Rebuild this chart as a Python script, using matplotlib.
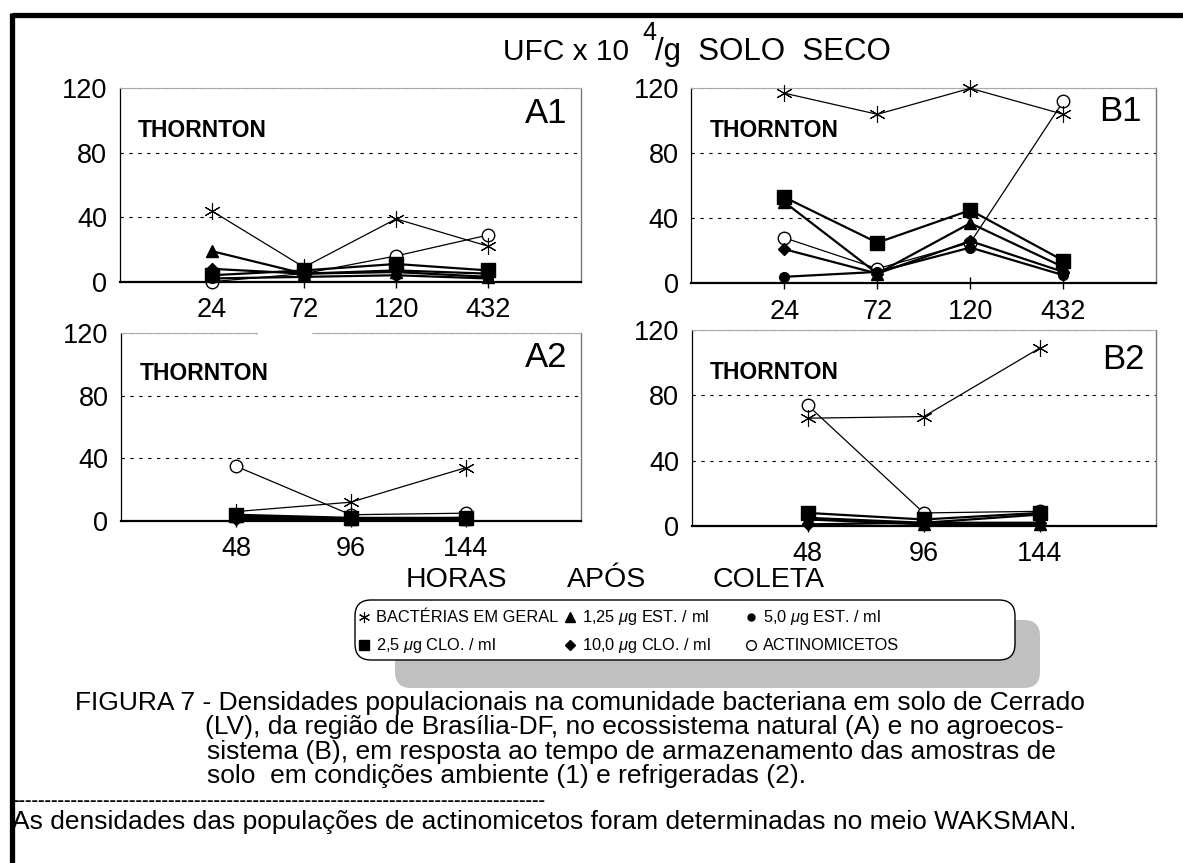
import matplotlib
matplotlib.use('Agg')
import matplotlib.pyplot as plt
from matplotlib.lines import Line2D
from matplotlib.patches import FancyBboxPatch, Rectangle
from matplotlib.transforms import IdentityTransform

plt.rcParams['font.family'] = ['Liberation Sans', 'DejaVu Sans']
plt.rcParams['mathtext.fontset'] = 'custom'
plt.rcParams['mathtext.it'] = 'Liberation Sans:italic'
plt.rcParams['mathtext.rm'] = 'Liberation Sans'

W, H = 1183, 863
fig = plt.figure(figsize=(W / 100, H / 100), dpi=100)


def fx(px):
    return px / W


def fy(py):
    return 1 - py / H


# ---------------- data ----------------
hours_1 = ['24', '72', '120', '432']
hours_2 = ['48', '96', '144']

# A1 : natural ecosystem, ambient storage
A1_bact = [44, 9, 39, 22]
A1_est125 = [19, 5, 6, 3]
A1_est50 = [2, 3, 4, 2]
A1_clo25 = [4, 7, 11, 7]
A1_clo10 = [8, 5, 7, 5]
A1_actino = [0, 5, 16, 29]

# B1 : agroecosystem, ambient storage
B1_bact = [117, 104, 120, 104]
B1_est125 = [50, 6, 37, 10]
B1_est50 = [4, 7, 22, 5]
B1_clo25 = [53, 25, 45, 14]
B1_clo10 = [21, 6, 26, 7]
B1_actino = [28, 9, 25, 112]

# A2 : natural ecosystem, refrigerated storage
A2_bact = [6, 12, 34]
A2_est125 = [3, 1, 1]
A2_est50 = [2, 1, 1]
A2_clo25 = [4, 2, 2]
A2_clo10 = [1, 1, 2]
A2_actino = [35, 4, 5]

# B2 : agroecosystem, refrigerated storage
B2_bact = [66, 67, 109]
B2_est125 = [4, 1, 1]
B2_est50 = [5, 2, 7]
B2_clo25 = [8, 4, 8]
B2_clo10 = [1, 2, 2]
B2_actino = [74, 8, 9]

# ---------------- styles ----------------
STAR = (6, 2, 0)
styles = {
    'actino': dict(marker='o', ms=9, mfc='white', mec='black', mew=1.0, lw=0.9, color='black'),
    'bact': dict(marker=STAR, ms=12, mfc='none', mec='black', mew=0.8, lw=0.9, color='black'),
    'est125': dict(marker='^', ms=9, mfc='black', mec='black', lw=1.6, color='black'),
    'est50': dict(marker='o', ms=7, mfc='black', mec='black', lw=1.6, color='black'),
    'clo10': dict(marker='D', ms=6, mfc='black', mec='black', lw=1.6, color='black'),
    'clo25': dict(marker='s', ms=9.5, mfc='black', mec='black', lw=1.6, color='black'),
}
order = ['actino', 'bact', 'est125', 'est50', 'clo10', 'clo25']


def panel(box_px, cats, data, label, label_pos):
    left, right, top, bottom = box_px
    ax = fig.add_axes([fx(left), fy(bottom), fx(right) - fx(left), fy(top) - fy(bottom)])
    x = list(range(1, len(cats) + 1))
    for key in order:
        ax.plot(x, data[key], clip_on=False, zorder=3, **styles[key])
    ax.set_xlim(0, len(cats) + 1)
    ax.set_ylim(0, 120)
    ax.set_yticks([0, 40, 80, 120])
    ax.set_xticks(x, cats)
    for v in (40, 80, 120):
        ax.axhline(v, color='black', lw=0.8, ls=(0, (3, 5)), zorder=1)
    ax.spines['left'].set_linewidth(0.9)
    ax.spines['right'].set_color('#777777')
    ax.spines['right'].set_linewidth(1.0)
    ax.spines['top'].set_color('#aaaaaa')
    ax.spines['top'].set_linewidth(0.8)
    ax.spines['bottom'].set_linewidth(1.6)
    ax.tick_params(axis='y', length=0, pad=9, labelsize=19.5)
    ax.tick_params(axis='x', direction='inout', length=8, width=1, pad=7, labelsize=19.5)
    ax.text(0.04, 0.785, 'THORNTON', transform=ax.transAxes, fontsize=16.5,
            fontweight='bold', va='center', ha='left')
    ax.text(label_pos[0], label_pos[1], label, transform=ax.transAxes, fontsize=25,
            va='center', ha='right')
    return ax


def pack(b, e1, e5, c2, c10, a):
    return dict(bact=b, est125=e1, est50=e5, clo25=c2, clo10=c10, actino=a)


panel((119.5, 580.5, 88.5, 281.7), hours_1,
      pack(A1_bact, A1_est125, A1_est50, A1_clo25, A1_clo10, A1_actino), 'A1', (0.972, 0.87))
panel((691.3, 1156.3, 88.3, 283.3), hours_1,
      pack(B1_bact, B1_est125, B1_est50, B1_clo25, B1_clo10, B1_actino), 'B1', (0.968, 0.88))
panel((121.0, 580.5, 333.0, 521.0), hours_2,
      pack(A2_bact, A2_est125, A2_est50, A2_clo25, A2_clo10, A2_actino), 'A2', (0.972, 0.87))
panel((691.5, 1156.0, 330.0, 526.0), hours_2,
      pack(B2_bact, B2_est125, B2_est50, B2_clo25, B2_clo10, B2_actino), 'B2', (0.976, 0.85))

# white gap in the top edge of A2 (behind the "72" label above)
fig.add_artist(Rectangle((258, H - 338), 54, 12, transform=IdentityTransform(),
                         fc='white', ec='none', zorder=10))

# ---------------- headings ----------------
fig.text(fx(629), fy(52), 'UFC x 10', fontsize=21.5, ha='right', va='center')
fig.text(fx(649), fy(33), '4', fontsize=18, ha='center', va='center')
fig.text(fx(655), fy(52), '/g  SOLO  SECO', fontsize=22.5, ha='left', va='center')
for word, cx in (('HORAS', 456), ('APÓS', 607), ('COLETA', 769)):
    fig.text(fx(cx), fy(580), word, fontsize=20.5, ha='center', va='center')

# ---------------- legend ----------------
ident = IdentityTransform()
fig.add_artist(FancyBboxPatch((395, H - 688), 645, 68, boxstyle='round,pad=0,rounding_size=16',
                              transform=ident, fc='#c0c0c0', ec='none', zorder=5))
fig.add_artist(FancyBboxPatch((355, H - 660), 660, 60, boxstyle='round,pad=0,rounding_size=16',
                              transform=ident, fc='white', ec='black', lw=1.0, zorder=6))

legend_items = [
    ('bact', 'BACTÉRIAS EM GERAL', 364, 617),
    ('est125', r'1,25 $\mu$g EST. / ml', 570, 617),
    ('est50', r'5,0 $\mu$g EST. / ml', 751, 617),
    ('clo25', r'2,5 $\mu$g CLO. / ml', 364, 645),
    ('clo10', r'10,0 $\mu$g CLO. / ml', 570, 645),
    ('actino', 'ACTINOMICETOS', 751, 645),
]
legend_ms = {'bact': 8, 'est125': 7, 'est50': 5, 'clo25': 7.5, 'clo10': 5, 'actino': 7}
for key, text, px, py in legend_items:
    st = dict(styles[key])
    st['ms'] = legend_ms[key]
    st.pop('lw')
    fig.add_artist(Line2D([px], [H - py], transform=ident, ls='none', zorder=7, **st))
    fig.text(fx(px + 12), fy(py), text, fontsize=11.8, ha='left', va='center', zorder=7)

# ---------------- caption ----------------
cap_size = 19.0
fig.text(fx(75), fy(703), 'FIGURA 7 - Densidades populacionais na comunidade bacteriana em solo de Cerrado',
         fontsize=cap_size, ha='left', va='center')
fig.text(fx(205), fy(727), '(LV), da região de Brasília-DF, no ecossistema natural (A) e no agroecos-',
         fontsize=cap_size, ha='left', va='center')
fig.text(fx(207), fy(752), 'sistema (B), em resposta ao tempo de armazenamento das amostras de',
         fontsize=cap_size, ha='left', va='center')
fig.text(fx(207), fy(776), 'solo  em condições ambiente (1) e refrigeradas (2).',
         fontsize=cap_size, ha='left', va='center')
fig.text(fx(12), fy(801), '-' * 82, fontsize=14, fontweight='bold', ha='left', va='center')
fig.text(fx(12), fy(822), 'As densidades das populações de actinomicetos foram determinadas no meio WAKSMAN.',
         fontsize=cap_size, ha='left', va='center')

# ---------------- outer frame ----------------
fig.add_artist(Line2D([12, W], [H - 15, H - 15], transform=ident, color='black', lw=3.8,
                      solid_capstyle='butt', zorder=10))
fig.add_artist(Line2D([12, 12], [H - 13, 0], transform=ident, color='black', lw=3.8,
                      solid_capstyle='butt', zorder=10))

fig.savefig('out.png', dpi=100)
